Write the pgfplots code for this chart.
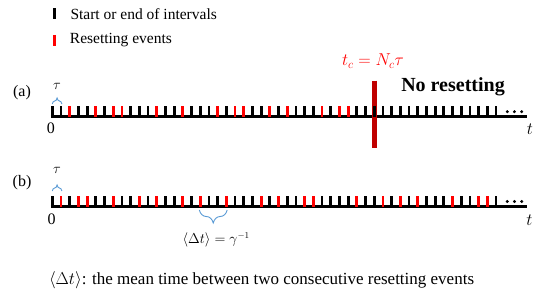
\documentclass[border=0pt]{standalone}
\usepackage{fontspec}
\setmainfont{Liberation Serif}
\usepackage{pgfplots}
\pgfplotsset{compat=1.18}
\usetikzlibrary{decorations.pathreplacing}
\definecolor{tickred}{RGB}{255,0,0}
\definecolor{darkred}{RGB}{192,0,0}
\definecolor{braceblue}{RGB}{91,155,213}
\begin{document}
\begin{tikzpicture}
\begin{axis}[hide axis, scale only axis, width=536bp, height=295bp,
  xmin=-6.0115, xmax=55.598, ymin=0, ymax=295, y dir=reverse, clip=false]
% legend markers
\addplot[only marks, mark=|, mark size=5.5bp, mark options={line width=2.6bp, black}] coordinates {(0.25,14)};
\addplot[only marks, mark=|, mark size=5.5bp, mark options={line width=2.6bp, tickred}] coordinates {(0.25,40.5)};
% row (a) baseline
\addplot[black, line width=3.3bp] coordinates {(-0.17,116.7) (54.6,116.7)};
% row (a) interval ticks
\addplot[only marks, mark=|, mark size=5.3bp, mark options={line width=2.8bp, black}] table {
t y
0 111.3
1 111.3
3 111.3
4 111.3
6 111.3
9 111.3
10 111.3
11 111.3
13 111.3
14 111.3
16 111.3
17 111.3
18 111.3
20 111.3
23 111.3
24 111.3
26 111.3
28 111.3
29 111.3
30 111.3
32 111.3
35 111.3
36 111.3
37 111.3
38 111.3
39 111.3
40 111.3
41 111.3
42 111.3
43 111.3
44 111.3
45 111.3
46 111.3
47 111.3
48 111.3
49 111.3
50 111.3
51 111.3
};
\addplot[only marks, mark=|, mark size=5.3bp, mark options={line width=2.8bp, tickred}] table {
t y
2 111.3
5 111.3
7 111.3
8 111.3
12 111.3
15 111.3
19 111.3
21 111.3
22 111.3
25 111.3
27 111.3
31 111.3
33 111.3
34 111.3
};
% t_c
\addplot[darkred, line width=5bp] coordinates {(37,80.7) (37,148.3)};
\addplot[only marks, mark=*, mark size=1.3bp, black] coordinates {(52.3,111.7) (53.12,111.7) (53.95,111.7)};
% row (b)
\addplot[black, line width=3.3bp] coordinates {(-0.17,206.7) (54.6,206.7)};
\addplot[only marks, mark=|, mark size=5.3bp, mark options={line width=2.8bp, black}] table {
t y
0 201.3
2 201.3
5 201.3
6 201.3
8 201.3
9 201.3
11 201.3
13 201.3
14 201.3
16 201.3
18 201.3
19 201.3
21 201.3
22 201.3
23 201.3
25 201.3
27 201.3
28 201.3
31 201.3
32 201.3
33 201.3
34 201.3
36 201.3
37 201.3
39 201.3
41 201.3
43 201.3
44 201.3
45 201.3
47 201.3
48 201.3
51 201.3
};
\addplot[only marks, mark=|, mark size=5.3bp, mark options={line width=2.8bp, tickred}] table {
t y
1 201.3
3 201.3
4 201.3
7 201.3
10 201.3
12 201.3
15 201.3
17 201.3
20 201.3
24 201.3
26 201.3
29 201.3
30 201.3
35 201.3
38 201.3
40 201.3
42 201.3
46 201.3
49 201.3
50 201.3
};
\addplot[only marks, mark=*, mark size=1.3bp, black] coordinates {(52.3,201.5) (53.12,201.5) (53.95,201.5)};
% braces
\draw[decorate, decoration={brace, amplitude=6bp}, braceblue, line width=0.9bp] (axis cs:0,104) -- (axis cs:1.1,104);
\draw[decorate, decoration={brace, amplitude=6bp}, braceblue, line width=0.9bp] (axis cs:0,191) -- (axis cs:1.1,191);
\draw[decorate, decoration={brace, amplitude=13bp}, braceblue, line width=0.9bp] (axis cs:20.1,210) -- (axis cs:16.9,210);
% texts
\node[anchor=west, font=\fontsize{15.5bp}{18bp}\selectfont] at (axis cs:1.69,14) {Start or end of intervals};
\node[anchor=west, font=\fontsize{15.5bp}{18bp}\selectfont] at (axis cs:1.62,40.5) {Resetting events};
\node[font=\fontsize{16bp}{18bp}\selectfont] at (axis cs:-3.48,93) {(a)};
\node[font=\fontsize{16bp}{18bp}\selectfont] at (axis cs:-3.48,183) {(b)};
\node[font=\fontsize{15bp}{15bp}\selectfont] at (axis cs:0.55,86) {$\tau$};
\node[font=\fontsize{15bp}{15bp}\selectfont] at (axis cs:0.55,170) {$\tau$};
\node[font=\fontsize{16bp}{18bp}\selectfont] at (axis cs:-0.15,128.3) {0};
\node[font=\fontsize{16bp}{18bp}\selectfont] at (axis cs:-0.07,219.3) {0};
\node[font=\fontsize{17bp}{18bp}\selectfont] at (axis cs:54.9,129.5) {$t$};
\node[font=\fontsize{17bp}{18bp}\selectfont] at (axis cs:54.83,220.7) {$t$};
\node[font=\fontsize{17bp}{18bp}\selectfont, text=tickred] at (axis cs:36.86,61) {$t_c=N_c\tau$};
\node[font=\fontsize{20bp}{22bp}\selectfont\bfseries] at (axis cs:46.06,87) {No resetting};
\node[font=\fontsize{13.5bp}{16bp}\selectfont] at (axis cs:18.84,240) {$\langle\Delta t\rangle=\gamma^{-1}$};
\node[font=\fontsize{17bp}{18bp}\selectfont] at (axis cs:24.05,280) {$\langle\Delta t\rangle$: the mean time between two consecutive resetting events};
\end{axis}
\pgfresetboundingbox
\useasboundingbox (current axis.south west) rectangle (current axis.north east);
\end{tikzpicture}
\end{document}
